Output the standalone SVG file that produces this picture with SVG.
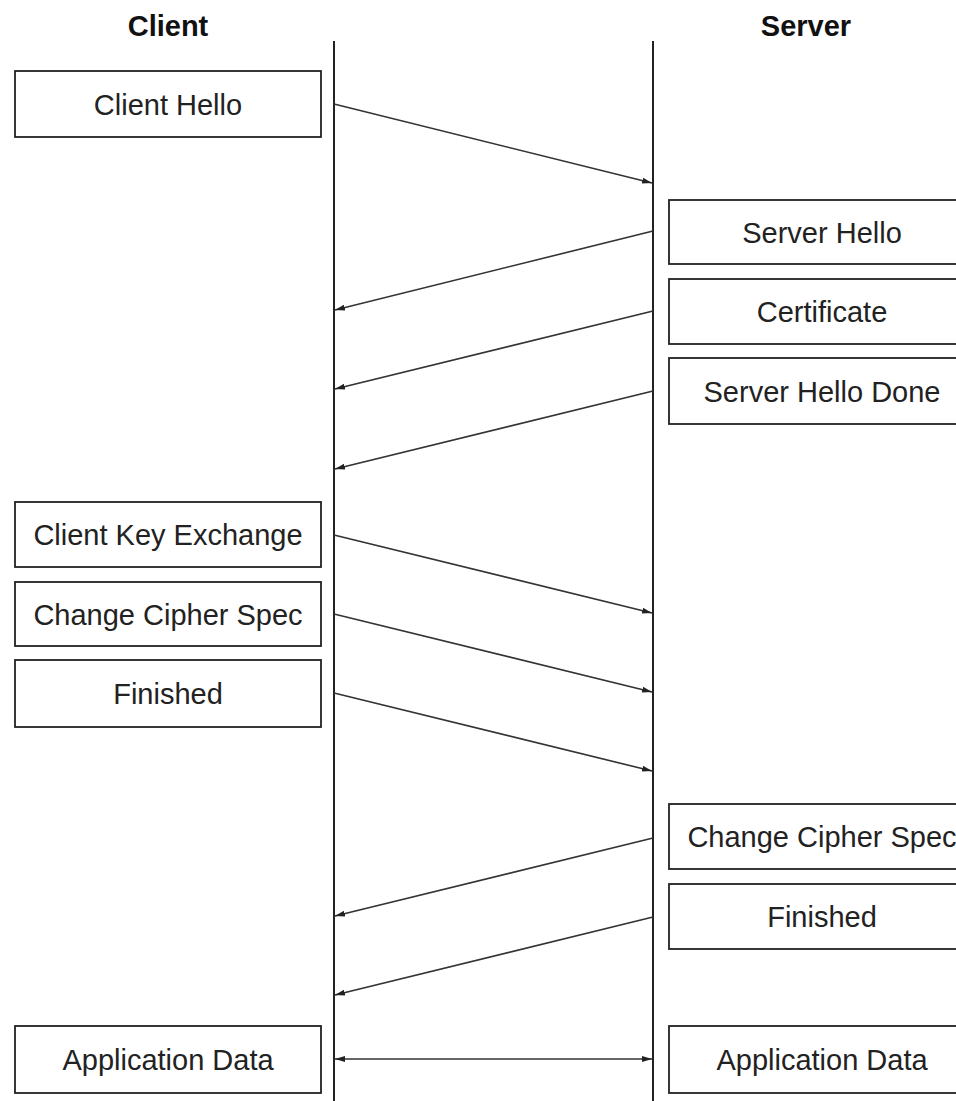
<svg xmlns="http://www.w3.org/2000/svg" width="956" height="1101" viewBox="0 0 956 1101">
<style>
.box{fill:#fff;stroke:#222;stroke-width:1.8}
.lbl{font-family:"Liberation Sans",Arial,sans-serif;font-size:29px;fill:#222;text-anchor:middle}
.hdr{font-family:"Liberation Sans",Arial,sans-serif;font-size:29px;font-weight:bold;fill:#111;text-anchor:middle}
.life{stroke:#222;stroke-width:2}
.msg{stroke:#333;stroke-width:1.6;fill:none;marker-end:url(#ah)}
</style>
<defs>
<marker id="ah" viewBox="0 0 10 6" refX="10" refY="3" markerWidth="10" markerHeight="6" markerUnits="userSpaceOnUse" orient="auto-start-reverse">
<path d="M0,0 L10,3 L0,6 Z" fill="#222"/>
</marker>
</defs>
<rect width="956" height="1101" fill="#fff"/>
<g id="headers">
<text class="hdr" x="168" y="36">Client</text>
<text class="hdr" x="806" y="36">Server</text>
</g>
<g id="lifelines">
<line class="life" x1="334" y1="41" x2="334" y2="1101"/>
<line class="life" x1="653" y1="41" x2="653" y2="1101"/>
</g>
<g id="n-client-hello"><rect class="box" x="15" y="71" width="306" height="66"/><text class="lbl" x="168" y="115">Client Hello</text></g>
<g id="n-server-hello"><rect class="box" x="669" y="200" width="306" height="64"/><text class="lbl" x="822" y="243">Server Hello</text></g>
<g id="n-certificate"><rect class="box" x="669" y="279" width="306" height="65"/><text class="lbl" x="822" y="322">Certificate</text></g>
<g id="n-server-hello-done"><rect class="box" x="669" y="358" width="306" height="66"/><text class="lbl" x="822" y="402">Server Hello Done</text></g>
<g id="n-client-key-exchange"><rect class="box" x="15" y="502" width="306" height="65"/><text class="lbl" x="168" y="545">Client Key Exchange</text></g>
<g id="n-client-ccs"><rect class="box" x="15" y="582" width="306" height="64"/><text class="lbl" x="168" y="625">Change Cipher Spec</text></g>
<g id="n-client-finished"><rect class="box" x="15" y="660" width="306" height="67"/><text class="lbl" x="168" y="704">Finished</text></g>
<g id="n-server-ccs"><rect class="box" x="669" y="804" width="306" height="65"/><text class="lbl" x="822" y="847">Change Cipher Spec</text></g>
<g id="n-server-finished"><rect class="box" x="669" y="884" width="306" height="65"/><text class="lbl" x="822" y="927">Finished</text></g>
<g id="n-client-app-data"><rect class="box" x="15" y="1026" width="306" height="67"/><text class="lbl" x="168" y="1070">Application Data</text></g>
<g id="n-server-app-data"><rect class="box" x="669" y="1026" width="306" height="67"/><text class="lbl" x="822" y="1070">Application Data</text></g>
<g id="connectors">
<line class="msg" x1="334" y1="104" x2="652" y2="183"/>
<line class="msg" x1="653" y1="231" x2="335" y2="310"/>
<line class="msg" x1="653" y1="311" x2="335" y2="389"/>
<line class="msg" x1="653" y1="391" x2="335" y2="469"/>
<line class="msg" x1="334" y1="535" x2="652" y2="613"/>
<line class="msg" x1="334" y1="614" x2="652" y2="692"/>
<line class="msg" x1="334" y1="693" x2="652" y2="771"/>
<line class="msg" x1="653" y1="838" x2="335" y2="916"/>
<line class="msg" x1="653" y1="917" x2="335" y2="995"/>
<line class="msg" x1="335" y1="1059" x2="652" y2="1059" marker-start="url(#ah)"/>
</g>
</svg>
